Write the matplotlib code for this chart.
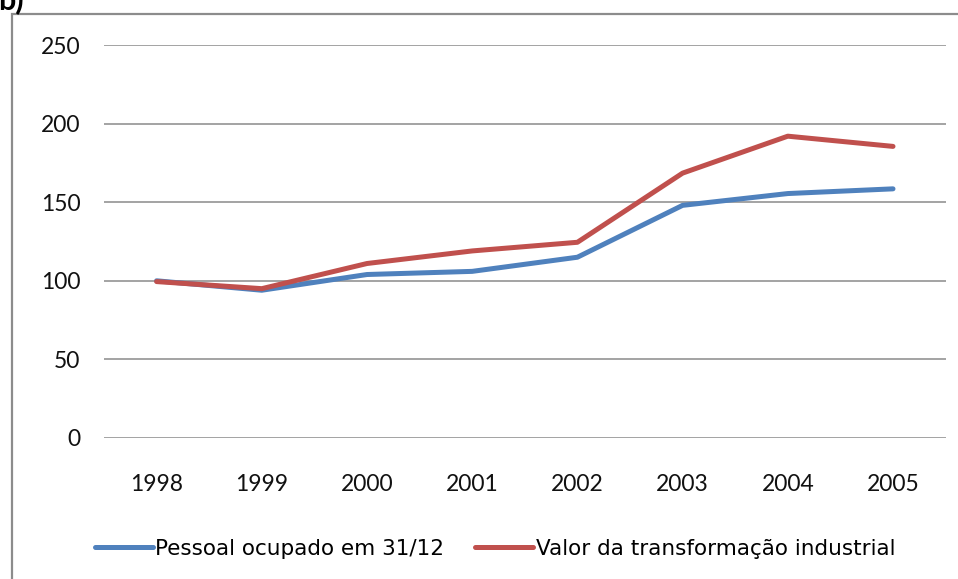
import matplotlib.pyplot as plt
from matplotlib.patches import Rectangle

anos = ['1998', '1999', '2000', '2001', '2002', '2003', '2004', '2005']
pessoal = [100, 94, 104, 106, 115, 148, 155.5, 158.5]
valor = [99.5, 95, 111, 119, 124.5, 168.5, 192, 185.5]
yticks = [0, 50, 100, 150, 200, 250]

plt.rcParams['font.family'] = ['Lato', 'DejaVu Sans']

fig = plt.figure(figsize=(9.58, 5.79), dpi=100)

# moldura do grafico (cortada na direita e embaixo)
W, H = 958, 579
fig.patches.append(Rectangle((12 / W, -0.05), 1.1, (H - 14) / H + 0.05,
                             transform=fig.transFigure, fill=False,
                             edgecolor='#8c8c8c', linewidth=1.6))
fig.text(-2 / W, 1 - 9 / H, 'b)', fontsize=22, fontweight='bold',
         va='baseline', ha='left')

ax = fig.add_axes([104 / W, 1 - 438 / H, 841.6 / W, 393 / H])
x = range(len(anos))
ax.plot(x, pessoal, color='#4f81bd', lw=3.6, solid_capstyle='round',
        label='Pessoal ocupado em 31/12')
ax.plot(x, valor, color='#c0504d', lw=3.6, solid_capstyle='round',
        label='Valor da transformação industrial')

ax.set_xlim(-0.5, len(anos) - 0.5)
ax.set_ylim(0, 250)
ax.set_yticks(yticks)
ax.set_xticks(list(x))
ax.set_xticklabels(anos)
ax.yaxis.grid(True, color='#8a8a8a', lw=1.1)
ax.set_axisbelow(True)
for s in ax.spines.values():
    s.set_visible(False)
ax.tick_params(axis='both', length=0, labelsize=16.5, colors='#111111')
ax.tick_params(axis='y', pad=17)
ax.tick_params(axis='x', pad=26)

fig.legend(loc='center', bbox_to_anchor=(495 / W, 1 - 549 / H), ncol=2,
           frameon=False, handlelength=2.7, handletextpad=0.1,
           columnspacing=1.45, prop={'family': ['DejaVu Sans'], 'size': 15.5})

fig.savefig('out.png', dpi=100)
